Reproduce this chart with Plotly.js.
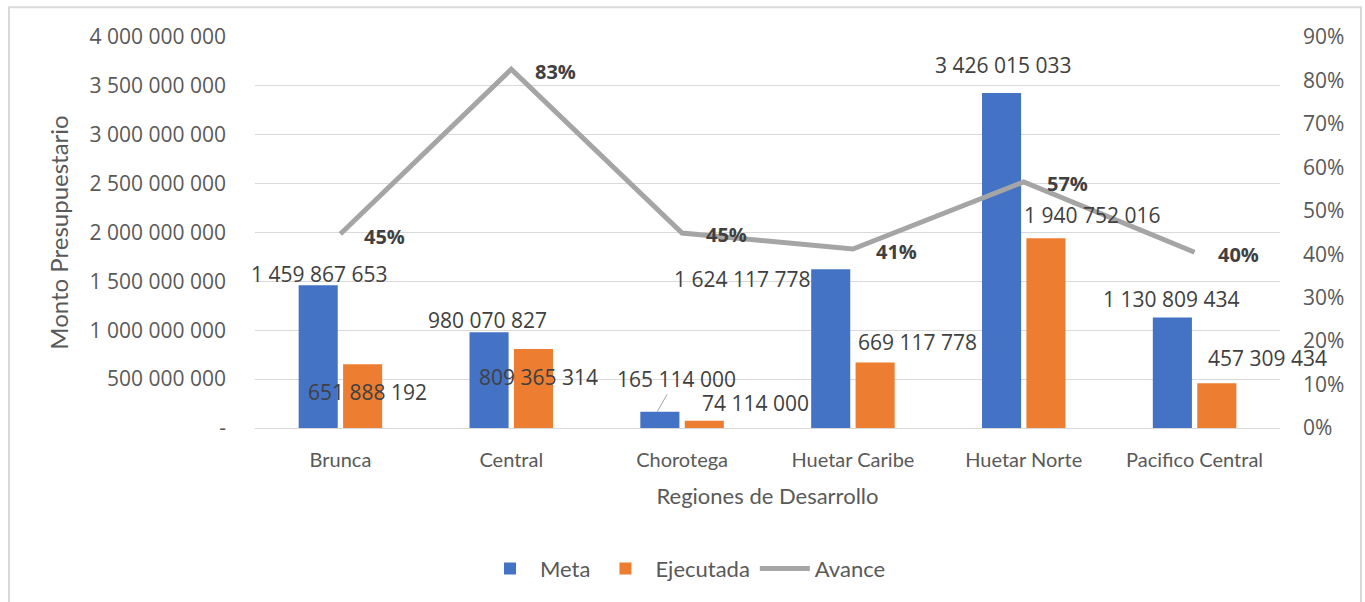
<!DOCTYPE html>
<html>
<head>
<meta charset="utf-8">
<script src="https://cdn.plot.ly/plotly-3.0.1.min.js"></script>
<style>
  body { margin: 0; background: #fff; }
  #chart { width: 1365px; height: 602px; }
</style>
</head>
<body>
<div id="chart"></div>
<script>
// Regiones y montos (colones)
var regiones = ["Brunca", "Central", "Chorotega", "Huetar Caribe", "Huetar Norte", "Pacifico Central"]
var meta = [1459867653, 980070827, 165114000, 1624117778, 3426015033, 1130809434]
var ejecutada = [651888192, 809365314, 74114000, 669117778, 1940752016, 457309434]
var avance = [0.4465, 0.8258, 0.4489, 0.4120, 0.5665, 0.4044]

var montoTicks = [0, 500000000, 1000000000, 1500000000, 2000000000, 2500000000, 3000000000, 3500000000, 4000000000]
var montoTickText = ["-", "500 000 000", "1 000 000 000", "1 500 000 000", "2 000 000 000",
  "2 500 000 000", "3 000 000 000", "3 500 000 000", "4 000 000 000"]

// label offsets in px (xshift from category centre, yshift from bar top), as placed in the original
var metaShift = [[-21, 11], [-24, 12], [-6, 34], [-111, -10], [-21, 28], [-24, 18]]
var ejecShift = [[27, -28], [27, -28], [73, 18], [65, 21], [68, 23], [73, 25]]

var numFont = "Open Sans"
var txtFont = "Lato"

function fmt(n) {
  return String(n).replace(/\B(?=(\d{3})+(?!\d))/g, " ")
}

var traceMeta = {
  x: regiones, y: meta, type: "bar", name: "Meta",
  marker: { color: "#4472c4" }, hoverinfo: "none"
}
var traceEjec = {
  x: regiones, y: ejecutada, type: "bar", name: "Ejecutada",
  marker: { color: "#ed7d31" }, hoverinfo: "none"
}
var traceAvance = {
  x: regiones, y: avance, type: "scatter", mode: "lines", name: "Avance",
  yaxis: "y2", line: { color: "#a5a5a5", width: 5 }, hoverinfo: "none"
}

var annotations = []
for (var i = 0; i < regiones.length; i++) {
  var chorotega = regiones[i] === "Chorotega"
  annotations.push({
    x: regiones[i], y: meta[i], xref: "x", yref: "y",
    text: fmt(meta[i]),
    showarrow: chorotega,
    arrowhead: 0, arrowwidth: 1, arrowcolor: "#a6a6a6",
    ax: 19, ay: -33, xshift: chorotega ? -25 : metaShift[i][0], yshift: chorotega ? 0 : metaShift[i][1],
    xanchor: "center", yanchor: "middle",
    font: { family: numFont, size: 21, color: "#404040" }
  })
  annotations.push({
    x: regiones[i], y: ejecutada[i], xref: "x", yref: "y",
    text: fmt(ejecutada[i]), showarrow: false,
    xshift: ejecShift[i][0], yshift: ejecShift[i][1],
    xanchor: "center", yanchor: "middle",
    font: { family: numFont, size: 21, color: "#404040" }
  })
  annotations.push({
    x: regiones[i], y: avance[i], xref: "x", yref: "y2",
    text: "<b>" + Math.round(avance[i] * 100) + "%</b>", showarrow: false,
    xshift: 44, yshift: -2,
    xanchor: "center", yanchor: "middle",
    font: { family: numFont, size: 20, color: "#404040" }
  })
}

var layout = {
  width: 1365, height: 602,
  margin: { l: 255, r: 85, t: 37, b: 172 },
  paper_bgcolor: "#fff", plot_bgcolor: "#fff",
  barmode: "group", bargap: 0.48, bargroupgap: 0.12,
  showlegend: true,
  legend: {
    orientation: "h", x: 0.42, xanchor: "center", y: -0.36, yanchor: "middle",
    itemwidth: 50, entrywidth: 0,
    font: { family: txtFont, size: 22, color: "#595959" }
  },
  xaxis: {
    type: "category", range: [-0.5, 5.5], showgrid: false, showline: false, ticks: "",
    ticklabelstandoff: 18,
    tickfont: { family: txtFont, size: 20, color: "#595959" },
    title: { text: "Regiones de Desarrollo", standoff: 18, font: { family: txtFont, size: 22, color: "#595959" } },
    automargin: false, fixedrange: true
  },
  yaxis: {
    range: [0, 4000000000], tickvals: montoTicks, ticktext: montoTickText,
    showgrid: true, gridcolor: "#d9d9d9", gridwidth: 1,
    zeroline: true, zerolinecolor: "#d9d9d9", zerolinewidth: 1, showline: false, ticks: "",
    ticklabelstandoff: 28,
    tickfont: { family: numFont, size: 21, color: "#595959" },
    title: { text: "Monto Presupuestario", standoff: 14, font: { family: txtFont, size: 24, color: "#595959" } },
    automargin: false, fixedrange: true
  },
  yaxis2: {
    overlaying: "y", side: "right", range: [0, 0.9], dtick: 0.1, tickformat: ".0%",
    showgrid: false, zeroline: false, showline: false, ticks: "",
    ticklabelstandoff: 22,
    tickfont: { family: numFont, size: 21, color: "#595959" },
    automargin: false, fixedrange: true
  },
  annotations: annotations,
  shapes: [{
    type: "rect", xref: "paper", yref: "paper",
    x0: -0.2400, x1: 1.0790, y0: -0.45, y1: 1.0763,
    line: { color: "#d9d9d9", width: 2 }, fillcolor: "rgba(0,0,0,0)", layer: "below"
  }]
}

Plotly.newPlot("chart", [traceMeta, traceEjec, traceAvance], layout, { staticPlot: true, displayModeBar: false })
</script>
</body>
</html>
